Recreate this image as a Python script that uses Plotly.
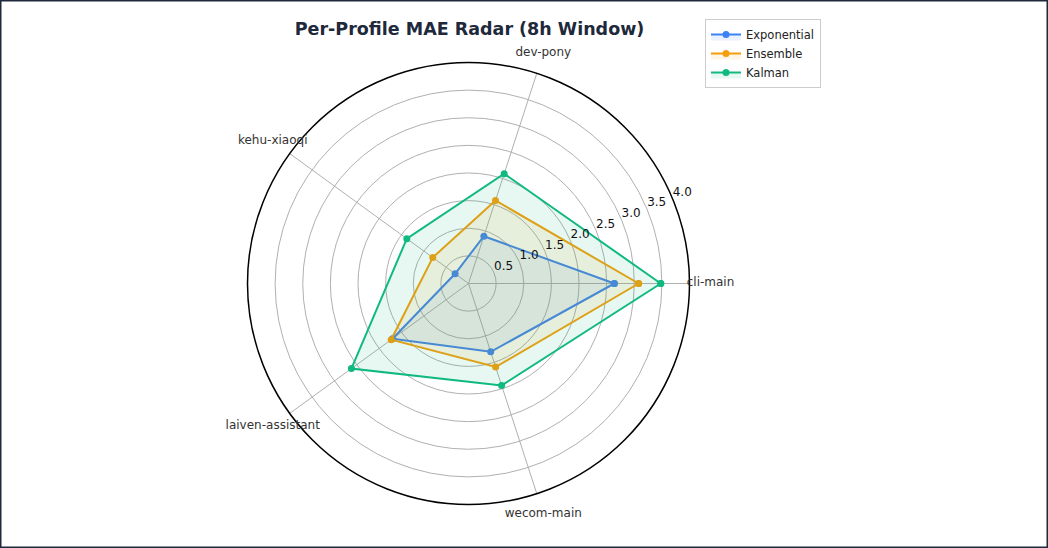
import plotly.graph_objects as go

categories = ["cli-main", "dev-pony", "kehu-xiaoqi", "laiven-assistant", "wecom-main"]
exponential = [2.64, 0.90, 0.30, 1.70, 1.30]
ensemble = [3.08, 1.58, 0.80, 1.73, 1.59]
kalman = [3.48, 2.09, 1.38, 2.62, 1.94]
radial_ticks = [0.5, 1.0, 1.5, 2.0, 2.5, 3.0, 3.5, 4.0]

series = [
    ("Exponential", exponential, "#3b82f6", "rgba(59,130,246,0.10)"),
    ("Ensemble", ensemble, "#f59e0b", "rgba(245,158,11,0.10)"),
    ("Kalman", kalman, "#10b981", "rgba(16,185,129,0.10)"),
]

W, H = 1048, 548
cx, cy, R = 468.5, 283.5, 221.0
RMAX = 4.0
RMAX2 = 4.6                      # overlay polar for labels, same scale
R2 = R * RMAX2 / RMAX
LABEL_R = 4.38
RADIAL_LABEL_ANGLE = 22.5

fig = go.Figure()
for name, vals, color, fill in series:
    fig.add_trace(go.Scatterpolar(
        r=vals + vals[:1],
        theta=categories + categories[:1],
        name=name,
        mode="lines+markers",
        line=dict(color=color, width=2),
        marker=dict(color=color, size=7),
        fill="toself",
        fillcolor=fill,
    ))

n = len(categories)
cat_angles = [i * 360.0 / n for i in range(n)]
fig.add_trace(go.Scatterpolar(
    r=[LABEL_R] * n, theta=cat_angles, text=categories,
    mode="text", textposition="middle center",
    textfont=dict(family="DejaVu Sans", size=12, color="#333"),
    showlegend=False, hoverinfo="skip", subplot="polar2",
))
fig.add_trace(go.Scatterpolar(
    r=radial_ticks, theta=[RADIAL_LABEL_ANGLE] * len(radial_ticks),
    text=[f"{v:.1f}" for v in radial_ticks],
    mode="text", textposition="top right",
    textfont=dict(family="DejaVu Sans", size=12, color="#111"),
    showlegend=False, hoverinfo="skip", subplot="polar2",
))

hidden_axis = dict(showline=False, showgrid=False, showticklabels=False, ticks="")

fig.update_layout(
    width=W, height=H,
    margin=dict(l=0, r=0, t=0, b=0),
    paper_bgcolor="white",
    font=dict(family="DejaVu Sans", size=12, color="#222"),
    title=dict(
        text="<b>Per-Profile MAE Radar (8h Window)</b>",
        x=cx / W + 0.001, xanchor="center",
        y=1 - 29 / H, yanchor="middle",
        font=dict(family="DejaVu Sans", size=17.5, color="#1e293b"),
    ),
    legend=dict(
        x=705 / W, xanchor="left",
        y=1 - 19 / H, yanchor="top",
        bordercolor="#cccccc", borderwidth=1,
        bgcolor="white",
        font=dict(family="DejaVu Sans", size=11.5, color="#222"),
    ),
    polar=dict(
        domain=dict(x=[(cx - R) / W, (cx + R) / W], y=[(H - cy - R) / H, (H - cy + R) / H]),
        bgcolor="white",
        angularaxis=dict(
            rotation=0, direction="counterclockwise",
            showline=True, linecolor="black", linewidth=1.5,
            gridcolor="#b0b0b0", gridwidth=0.8,
            ticks="", showticklabels=False,
        ),
        radialaxis=dict(
            range=[0, RMAX], tickvals=radial_ticks,
            showline=False, ticks="", showticklabels=False,
            gridcolor="#b0b0b0", gridwidth=0.8,
        ),
    ),
    polar2=dict(
        domain=dict(x=[(cx - R2) / W, (cx + R2) / W], y=[(H - cy - R2) / H, (H - cy + R2) / H]),
        bgcolor="rgba(0,0,0,0)",
        angularaxis=dict(rotation=0, direction="counterclockwise", **hidden_axis),
        radialaxis=dict(range=[0, RMAX2], **hidden_axis),
    ),
    shapes=[dict(type="rect", xref="paper", yref="paper", x0=0, x1=1, y0=0, y1=1,
                 line=dict(color="#1e293b", width=3), fillcolor="rgba(0,0,0,0)")],
)

fig.write_html("out.html")
